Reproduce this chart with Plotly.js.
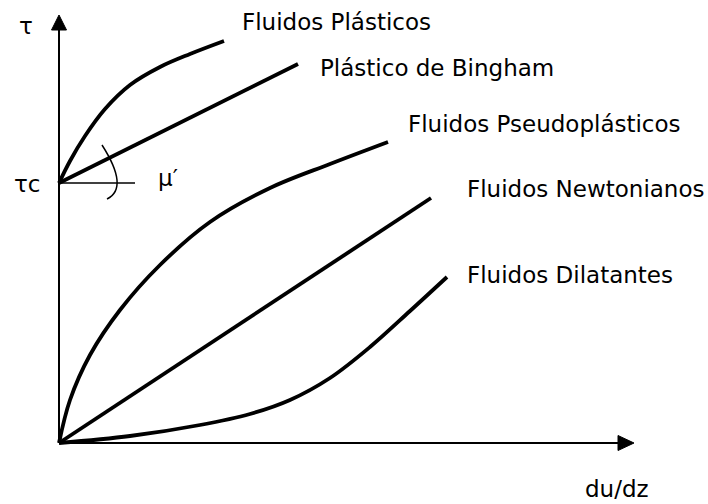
<!DOCTYPE html>
<html>
<head>
<meta charset="utf-8">
<script src="https://cdn.plot.ly/plotly-3.0.1.min.js"></script>
<style>html,body{margin:0;padding:0;background:#fff;}#chart{width:708px;height:504px;}</style>
</head>
<body>
<div id="chart"></div>
<script>
// Shear-rate (du/dz) and shear-stress (tau) values, arbitrary units
const tauC = 26.0;

const plasticX = [0, 1.1, 2.6, 4.6, 7.1, 10.1, 13.1, 16.5];
const plasticY = [26.0, 28.2, 30.7, 33.4, 35.8, 37.6, 38.9, 40.2];

const binghamX = [0, 23.9];
const binghamY = [26.0, 37.9];

const pseudoX = [0, 1.1, 3.1, 6.1, 10.1, 15.1, 21.1, 27.1, 32.9];
const pseudoY = [0, 4.3, 8.8, 13.3, 17.8, 22.1, 25.5, 27.9, 30.1];

const newtonX = [0, 37.2];
const newtonY = [0, 24.5];

const dilatX = [0, 7.1, 14.1, 19.1, 23.1, 27.1, 31.1, 35.1, 38.8];
const dilatY = [0, 0.7, 1.8, 2.9, 4.3, 6.5, 9.6, 13.2, 16.6];

const labels = ["Fluidos Plásticos", "Plástico de Bingham", "Fluidos Pseudoplásticos", "Fluidos Newtonianos", "Fluidos Dilatantes"];

const FONT = "DejaVu Sans, Verdana, sans-serif";
const black = "#000";

function curve(x, y, spline) {
  return {x: x, y: y, mode: "lines", type: "scatter", hoverinfo: "skip",
    line: {color: black, width: 3.8, shape: spline ? "spline" : "linear", smoothing: 1.0}};
}

const traces = [
  curve(plasticX, plasticY, true),
  curve(binghamX, binghamY, false),
  curve(pseudoX, pseudoY, true),
  curve(newtonX, newtonY, false),
  curve(dilatX, dilatY, true)
];

// axis geometry (decoration)
const xAxisEnd = 55.9, xTip = 57.5;
const yAxisEnd = 41.3, yTip = 42.8;
const hw = 0.75;

const shapes = [
  {type: "line", x0: 0, y0: 0, x1: xAxisEnd, y1: 0, line: {color: black, width: 2}},
  {type: "line", x0: 0, y0: 0, x1: 0, y1: yAxisEnd, line: {color: black, width: 2}},
  {type: "path", path: `M ${xAxisEnd} ${-hw} L ${xTip} 0 L ${xAxisEnd} ${hw} Z`, fillcolor: black, line: {color: black, width: 1}},
  {type: "path", path: `M ${-hw} ${yAxisEnd} L 0 ${yTip} L ${hw} ${yAxisEnd} Z`, fillcolor: black, line: {color: black, width: 1}},
  // angle marker at tau_c
  {type: "line", x0: 0, y0: tauC, x1: 7.6, y1: tauC, line: {color: black, width: 1.5}},
  {type: "path", path: `M 4.3 ${tauC + 3.8} Q 7.05 ${tauC - 0.5} 4.8 ${tauC - 1.6}`, line: {color: black, width: 1.5}}
];

function ann(text, x, y, xanchor) {
  return {text: text, x: x, y: y, xref: "x", yref: "y", showarrow: false,
    xanchor: xanchor || "left", yanchor: "middle", font: {family: FONT, size: 23, color: black}};
}

const annotations = [
  ann(labels[0], 18.1, 42.1),
  ann(labels[1], 25.9, 37.5),
  ann(labels[2], 34.7, 31.9),
  ann(labels[3], 40.6, 25.4),
  ann(labels[4], 40.6, 16.8),
  ann("du/dz", 52.4, -4.6),
  ann("τ", -3.3, 41.7, "center"),
  ann("τc", -3.2, 25.9, "center"),
  ann("μ′", 10.9, 26.5, "center")
];

const layout = {
  width: 708, height: 504,
  margin: {l: 0, r: 0, t: 0, b: 0},
  paper_bgcolor: "#fff", plot_bgcolor: "#fff",
  showlegend: false,
  xaxis: {range: [-5.9, 64.9], visible: false, fixedrange: true},
  yaxis: {range: [-6.1, 44.3], visible: false, fixedrange: true},
  shapes: shapes,
  annotations: annotations
};

Plotly.newPlot("chart", traces, layout, {staticPlot: true, displayModeBar: false});
</script>
</body>
</html>
